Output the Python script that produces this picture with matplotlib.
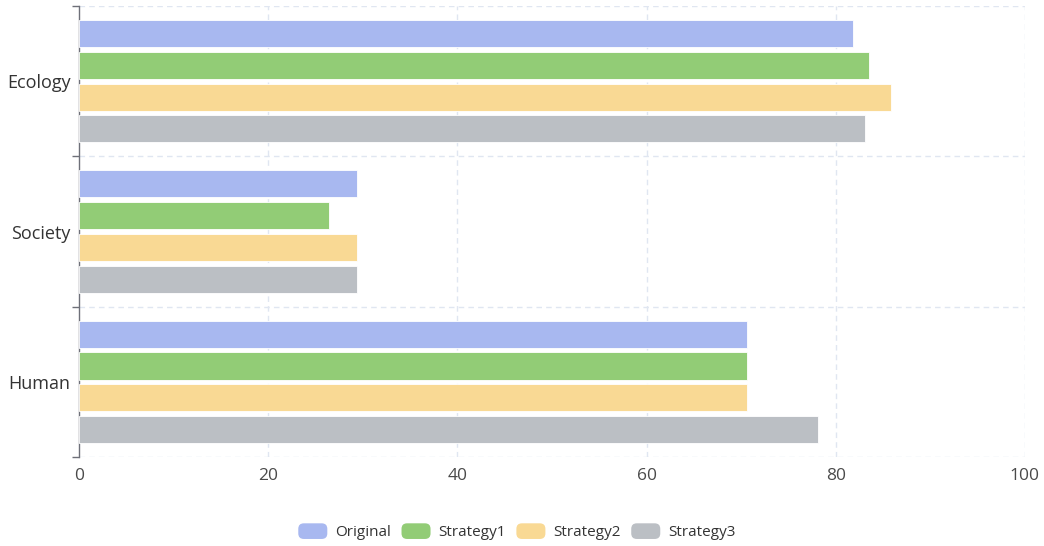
import numpy as np
import matplotlib
matplotlib.use('Agg')
import matplotlib.pyplot as plt
from matplotlib.patches import FancyBboxPatch
from matplotlib.legend_handler import HandlerPatch

plt.rcParams['font.family'] = ['Open Sans', 'DejaVu Sans']

# data
categories = ['Human', 'Society', 'Ecology']
series_names = ['Original', 'Strategy1', 'Strategy2', 'Strategy3']
original = [70.6, 29.4, 81.8]
strategy1 = [70.6, 26.4, 83.5]
strategy2 = [70.6, 29.4, 85.8]
strategy3 = [78.1, 29.4, 83.1]
xticks = [0, 20, 40, 60, 80, 100]

values = [original, strategy1, strategy2, strategy3]
colors = ['#a8b8f0', '#92cc76', '#f9d994', '#bbbfc4']


class RoundHandler(HandlerPatch):
    def create_artists(self, legend, orig_handle, xdescent, ydescent,
                       width, height, fontsize, trans):
        p = FancyBboxPatch((-xdescent, -ydescent), width, height,
                           boxstyle='round,pad=0,rounding_size=4',
                           facecolor=orig_handle.get_facecolor(),
                           edgecolor='none', transform=trans)
        return [p]


fig = plt.figure(figsize=(10.44, 5.46), dpi=100)
ax = fig.add_axes([0.0757, 0.163, 0.906, 0.826])

y = np.arange(len(categories))
pitch = 0.211
height = 0.18
bars = []
for i, (name, vals) in enumerate(zip(series_names, values)):
    b = ax.barh(y + (1.5 - i) * pitch, vals, height=height, color=colors[i],
                label=name, edgecolor='white', linewidth=0.6, zorder=3)
    bars.append(b)

ax.set_xlim(0, 100)
ax.set_ylim(-0.5, 2.5)
ax.set_xticks(xticks)
ax.set_yticks(y)
ax.set_yticklabels(categories)

# grid: dashed light lines
for xv in xticks[1:]:
    ax.axvline(xv, color='#e0e6f1', lw=1, ls=(0, (4, 3)), zorder=1)
for yv in [-0.5, 0.5, 1.5, 2.5]:
    ax.axhline(yv, color='#e0e6f1', lw=1, ls=(0, (4, 3)), zorder=1)

for s in ['top', 'right', 'bottom']:
    ax.spines[s].set_visible(False)
ax.spines['left'].set_color('#6e7079')
ax.spines['left'].set_linewidth(1)

ax.tick_params(axis='x', length=0, labelsize=12.5, labelcolor='#4a4a4a', pad=8)
ax.tick_params(axis='y', which='major', length=0, labelsize=13,
               labelcolor='#333333', pad=6)
ax.set_yticks([-0.5, 0.5, 1.5, 2.5], minor=True)
ax.tick_params(axis='y', which='minor', length=5, color='#6e7079', width=1)

leg = fig.legend(handles=[b[0] for b in bars], labels=series_names,
                 loc='center', bbox_to_anchor=(0.495, 0.026), ncol=4,
                 frameon=False, fontsize=11, handlelength=1.9,
                 handleheight=1.2, handletextpad=0.5, columnspacing=0.7,
                 handler_map={matplotlib.patches.Rectangle: RoundHandler()})
for t in leg.get_texts():
    t.set_color('#333333')

fig.savefig('out.png', dpi=100)
